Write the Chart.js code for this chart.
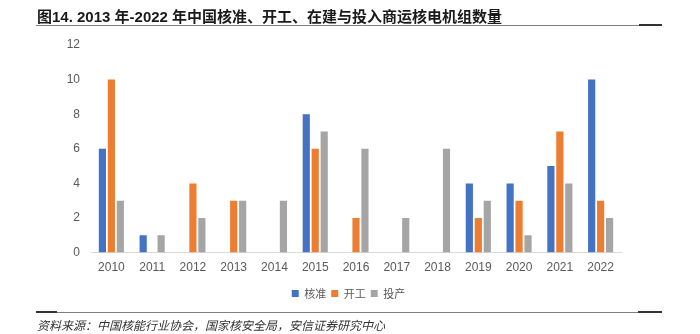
<!DOCTYPE html>
<html>
<head>
<meta charset="utf-8">
<script src="https://cdn.jsdelivr.net/npm/chart.js@4"></script>
<style>
html,body{margin:0;padding:0;background:#fff;}
#wrap{position:relative;width:700px;height:334px;overflow:hidden;}
#c{position:absolute;left:0;top:0;}
#title{position:absolute;left:37px;top:5px;font:bold 15px "Liberation Sans","Noto Sans CJK SC",sans-serif;color:#1a1a1a;white-space:nowrap;}
#tline{position:absolute;left:36px;top:25px;width:626px;height:1px;background:#808080;}
#tline2{position:absolute;left:639px;top:24px;width:23px;height:2px;background:#333;}
#fline{position:absolute;left:36px;top:312px;width:626px;height:1px;background:#808080;}
#fline1{position:absolute;left:36px;top:311px;width:21px;height:2px;background:#333;}
#fline2{position:absolute;left:638px;top:311px;width:24px;height:2px;background:#333;}
#foot{position:absolute;left:37px;top:316px;font:italic 12px "Noto Sans CJK SC",sans-serif;color:#333;white-space:nowrap;}
</style>
</head>
<body>
<div id="wrap">
<canvas id="c" width="700" height="334"></canvas>
<div id="title">图14. 2013 年-2022 年中国核准、开工、在建与投入商运核电机组数量</div>
<div id="tline"></div><div id="tline2"></div>
<div id="fline"></div><div id="fline1"></div><div id="fline2"></div>
<div id="foot">资料来源：中国核能行业协会，国家核安全局，安信证券研究中心</div>
</div>
<script>
const years = ['2010','2011','2012','2013','2014','2015','2016','2017','2018','2019','2020','2021','2022'];
const approved = [6,1,0,0,0,8,0,0,0,4,4,5,10];
const started = [10,0,4,3,0,6,2,0,0,2,3,7,3];
const operating = [3,1,2,3,3,7,6,2,6,3,1,4,2];
const seriesNames = ['核准','开工','投产'];
const yTicks = [0,2,4,6,8,10,12];

const shiftLegend = {
  id: 'shiftLegend',
  afterLayout(chart) {
    const l = chart.legend;
    if (l) { l.left += 18; l.right += 18; }
  }
};

new Chart(document.getElementById('c'), {
  type: 'bar',
  data: {
    labels: years,
    datasets: [
      {label: seriesNames[0], data: approved, backgroundColor: '#4472C4'},
      {label: seriesNames[1], data: started, backgroundColor: '#ED7D31'},
      {label: seriesNames[2], data: operating, backgroundColor: '#A5A5A5'}
    ]
  },
  plugins: [shiftLegend],
  options: {
    responsive: false,
    animation: false,
    devicePixelRatio: 1,
    datasets: {bar: {barPercentage: 0.8, categoryPercentage: 0.66}},
    layout: {padding: {left: 40, right: 79, top: 45, bottom: 25}},
    plugins: {
      tooltip: {enabled: false},
      legend: {
        position: 'bottom',
        labels: {
          boxWidth: 7, boxHeight: 7, padding: 5,
          color: '#595959',
          font: {family: '"Noto Sans CJK SC", sans-serif', size: 11}
        }
      }
    },
    scales: {
      x: {
        grid: {display: false, drawTicks: false},
        border: {display: true, color: '#d9d9d9', width: 1},
        ticks: {color: '#595959', font: {family: '"Liberation Sans", Arial, sans-serif', size: 12}, padding: 8, maxRotation: 0}
      },
      y: {
        min: 0, max: 12,
        afterFit: (s) => { s.width = 51; },
        afterBuildTicks: (s) => { s.ticks = yTicks.map(v => ({value: v})); },
        grid: {display: false, drawTicks: false},
        border: {display: false},
        ticks: {color: '#595959', font: {family: '"Liberation Sans", Arial, sans-serif', size: 12}, padding: 11}
      }
    }
  }
});
</script>
</body>
</html>
